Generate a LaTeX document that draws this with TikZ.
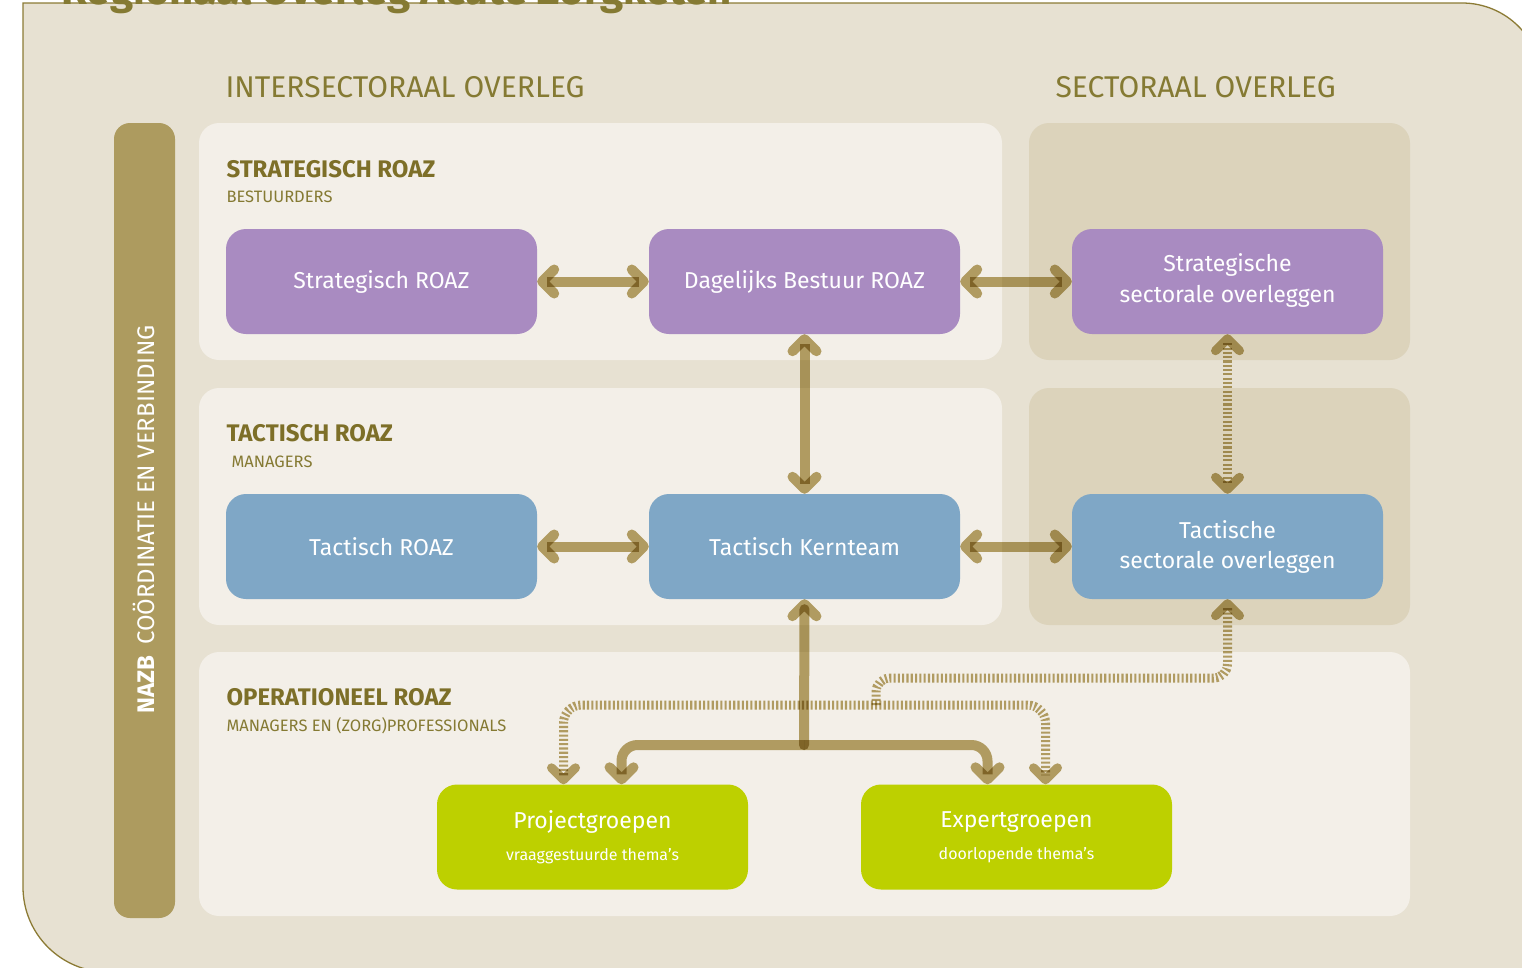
\documentclass[tikz,border=0pt]{standalone}
\usepackage{fontspec}
\setmainfont{Fira Sans}
\usetikzlibrary{arrows.meta}
\definecolor{bgc}{HTML}{E7E1D2}
\definecolor{framec}{HTML}{8C7B35}
\definecolor{panelc}{HTML}{F3EFE8}
\definecolor{sectc}{HTML}{DCD3BB}
\definecolor{barc}{HTML}{AD9B5F}
\definecolor{purplec}{HTML}{A98BC1}
\definecolor{bluec}{HTML}{7FA7C6}
\definecolor{greenc}{HTML}{BDD000}
\definecolor{olivec}{HTML}{857A33}
\definecolor{headc}{HTML}{7D6F28}
\definecolor{arrc}{HTML}{B9A66B}
\newcommand{\fs}[1]{\fontsize{#1pt}{#1pt}\selectfont}
\tikzset{
  mytip/.tip={Straight Barb[length=12pt,width=24pt,round]},
  box/.style={rounded corners=20pt, minimum width=311pt, minimum height=105pt,
    inner sep=0pt, text=white, align=center, font=\fs{23}},
  conn/.style={draw=arrc, line width=10pt, blend mode=multiply},
  dotconn/.style={draw=arrc, line width=9pt, dash pattern=on 2.1pt off 2.2pt, blend mode=multiply},
  panel/.style={fill=panelc, rounded corners=20pt},
  sectpanel/.style={fill=sectc, rounded corners=20pt},
  colhead/.style={anchor=base west, text=olivec, font=\fs{30}},
  rowhead/.style={anchor=base west, text=headc, font=\fs{24}\bfseries},
  rowsub/.style={anchor=base west, text=olivec, font=\fs{16.5}},
}
\begin{document}
\begin{tikzpicture}[x=1pt,y=-1pt]
\useasboundingbox (0,0) rectangle (1522,967);
% outer frame
\filldraw[fill=bgc, draw=framec, line width=1.3pt]
  (23,3) -- (1462,3) arc[start angle=90,end angle=0,radius=80pt]
  -- (1542,972) -- (108,972) arc[start angle=270,end angle=180,radius=85pt] -- cycle;
\node[anchor=base west, text=olivec, font=\fs{42}\bfseries] (title) at (58,4) {Regionaal Overleg Acute Zorgketen};
% bar
\fill[barc, rounded corners=16pt] (114,123) rectangle (175,918);
\node[rotate=90, anchor=base west, text=white, font=\fs{24}] (bartext) at (154,717)
  {\textbf{NAZB}\hspace{0.45em}COÖRDINATIE EN VERBINDING};
% panels
\fill[panel] (199,123) rectangle (1002,360);
\fill[panel] (199,388) rectangle (1002,625);
\fill[panel] (199,652) rectangle (1410,916);
\fill[sectpanel] (1029,123) rectangle (1410,360);
\fill[sectpanel] (1029,388) rectangle (1410,625);
% headings
\node[colhead] (h1) at (222,97) {INTERSECTORAAL OVERLEG};
\node[colhead] (h2) at (1052,97) {SECTORAAL OVERLEG};
\node[rowhead] (r1) at (223,177) {STRATEGISCH ROAZ};
\node[rowsub] (s1) at (223,202) {BESTUURDERS};
\node[rowhead] (r2) at (223,441) {TACTISCH ROAZ};
\node[rowsub] (s2) at (228,467) {MANAGERS};
\node[rowhead] (r3) at (223,705) {OPERATIONEEL ROAZ};
\node[rowsub] (s3) at (223,731) {MANAGERS EN (ZORG)PROFESSIONALS};
% boxes
\node[box, fill=purplec] (sr) at (381.5,281.5) {Strategisch ROAZ};
\node[box, fill=purplec] (db) at (804.5,281.5) {Dagelijks Bestuur ROAZ};
\node[box, fill=purplec] (ss) at (1227.5,281.5) {\raisebox{5pt}{\begin{tabular}{@{}c@{}}Strategische\\[7pt]sectorale overleggen\end{tabular}}};
\node[box, fill=bluec] (tr) at (381.5,546.5) {Tactisch ROAZ};
\node[box, fill=bluec] (tk) at (804.5,546.5) {Tactisch Kernteam};
\node[box, fill=bluec] (ts) at (1227.5,546.5) {Tactische\\[7pt]sectorale overleggen};
\node[box, fill=greenc] (pg) at (592.5,837) {Projectgroepen\\[9pt]{\fs{16}vraaggestuurde thema’s}};
\node[box, fill=greenc] (eg) at (1016.5,837) {Expertgroepen\\[9pt]{\fs{16}doorlopende thema’s}};
% coordinates
\coordinate (j) at (804,745);
\coordinate (d1) at (876,705);
% solid connectors
\draw[conn, mytip-mytip] (sr.east) -- (db.west);
\draw[conn, mytip-mytip] (db.east) -- (ss.west);
\draw[conn, mytip-mytip] (tr.east) -- (tk.west);
\draw[conn, mytip-mytip] (tk.east) -- (ts.west);
\draw[conn, mytip-mytip] (db.south) -- (tk.north);
\draw[conn, mytip-, line cap=round] (tk.south) -- (j);
\draw[conn, -mytip, rounded corners=16pt] (j) -| ([xshift=29pt]pg.north);
\draw[conn, -mytip, rounded corners=16pt] (j) -| ([xshift=-29pt]eg.north);
% dotted connectors
\draw[dotconn, mytip-mytip] (ss.south) -- (ts.north);
\draw[dotconn, mytip-mytip, rounded corners=18pt] ([xshift=-29pt]pg.north) |- (d1) -| ([xshift=29pt]eg.north);
\draw[dotconn, mytip-, rounded corners=14pt] (ts.south) |- (876,678) -- (d1);
\end{tikzpicture}
\end{document}
